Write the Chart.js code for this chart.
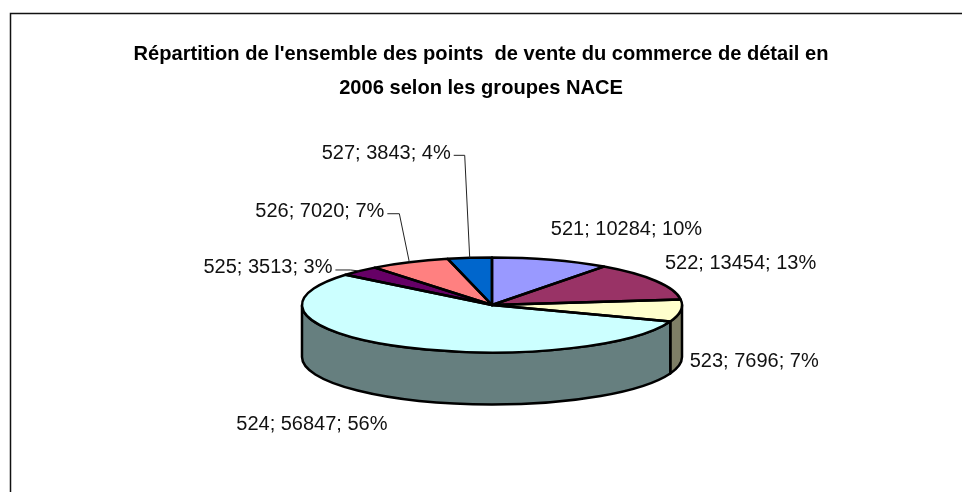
<!DOCTYPE html>
<html><head><meta charset="utf-8">
<style>html,body{margin:0;padding:0;background:#fff}#w{position:relative;width:962px;height:492px}canvas{display:block}</style>
<script src="https://cdn.jsdelivr.net/npm/chart.js@4"></script>
</head><body><div id="w"><canvas id="c" width="962" height="492"></canvas></div>
<script>
const titleLines = ["Répartition de l'ensemble des points  de vente du commerce de détail en", "2006 selon les groupes NACE"];
const categories = ["521","522","523","524","525","526","527"];
const values = [10284,13454,7696,56847,3513,7020,3843];
const percents = ["10%","13%","7%","56%","3%","7%","4%"];
const colors = ["#9999FF","#993366","#FFFFCC","#CCFFFF","#660066","#FF8080","#0066CC"];

const SQUASH = 0.25, SHIFT_X = 11, CENTER_Y = 305, DEPTH = 52;
const labelPlacement = [
  {dx:0,dy:-30.5,align:"left"},{dx:9,dy:-17.5,align:"left"},{dx:9,dy:50.5,align:"left"},
  {dx:-161,dy:78.5,align:"left"},
  {dx:-27,dy:-3,align:"right",elbow:9},{dx:-25,dy:-50.5,align:"right",elbow:10},{dx:-19,dy:-104.5,align:"right",elbow:5}
];
const dark = h => { const n=parseInt(h.slice(1),16);
  return "rgb("+((n>>16&255)>>1)+","+((n>>8&255)>>1)+","+((n&255)>>1)+")"; };

const pie3d = {
  id:"pie3d",
  beforeDraw(chart){
    const c=chart.ctx; c.save(); c.fillStyle="#fff"; c.fillRect(0,0,chart.width,chart.height);
    c.strokeStyle="#111"; c.lineWidth=1.5; c.beginPath();
    c.moveTo(10.5,chart.height); c.lineTo(10.5,13.5); c.lineTo(chart.width,13.5); c.stroke(); c.restore();
  },
  beforeDatasetsDraw(chart){
    const c=chart.ctx, arcs=chart.getDatasetMeta(0).data;
    c.save(); c.lineWidth=2.5; c.strokeStyle="#000"; c.lineJoin="round";
    arcs.forEach((a,i)=>{
      const s=Math.max(a.startAngle,0), e=Math.min(a.endAngle,Math.PI);
      if(e<=s) return;
      const x=a.x+SHIFT_X, r=a.outerRadius, ry=r*SQUASH;
      c.beginPath();
      c.ellipse(x,CENTER_Y,r,ry,0,s,e);
      c.ellipse(x,CENTER_Y+DEPTH,r,ry,0,e,s,true);
      c.closePath(); c.fillStyle=dark(colors[i]); c.fill(); c.stroke();
    });
    c.restore();
    const a0=arcs[0];
    c.save();
    c.translate(a0.x+SHIFT_X,CENTER_Y); c.scale(1,SQUASH); c.translate(-a0.x,-a0.y);
  },
  afterDatasetsDraw(chart){
    const c=chart.ctx, arcs=chart.getDatasetMeta(0).data;
    c.restore();
    c.save(); c.lineWidth=2.5; c.strokeStyle="#000"; c.lineJoin="round";
    arcs.forEach(a=>{
      const x=a.x+SHIFT_X, r=a.outerRadius, ry=r*SQUASH;
      c.beginPath(); c.moveTo(x,CENTER_Y);
      c.ellipse(x,CENTER_Y,r,ry,0,a.startAngle,a.endAngle);
      c.closePath(); c.stroke();
    });
    c.font="20px 'Liberation Sans'"; c.textBaseline="middle"; c.fillStyle="#111";
    arcs.forEach((a,i)=>{
      const m=(a.startAngle+a.endAngle)/2, r=a.outerRadius;
      const ax=a.x+SHIFT_X+r*Math.cos(m), ay=CENTER_Y+r*SQUASH*Math.sin(m);
      const p=labelPlacement[i], tx=ax+p.dx, ty=ay+p.dy;
      c.textAlign=p.align;
      c.fillText(categories[i]+"; "+values[i]+"; "+percents[i],tx,ty);
      if(p.elbow){
        c.save(); c.lineWidth=1; c.strokeStyle="#222"; c.beginPath();
        c.moveTo(tx+3,ty+2); c.lineTo(ax-p.elbow,ty+2); c.lineTo(ax,ay); c.stroke(); c.restore();
      }
    });
    c.restore();
  }
};

new Chart(document.getElementById("c"),{
  type:"pie",
  data:{labels:categories,datasets:[{data:values,backgroundColor:colors,borderWidth:0,radius:190,clip:false}]},
  options:{
    responsive:false,animation:false,
    events:[],
    plugins:{
      legend:{display:false},tooltip:{enabled:false},
      title:{display:true,text:titleLines,color:"#000",
        font:{family:"'Liberation Sans'",size:20.1,weight:"bold",lineHeight:34/20.1},
        padding:{top:37,bottom:1}}
    }
  },
  plugins:[pie3d]
});
</script></body></html>
